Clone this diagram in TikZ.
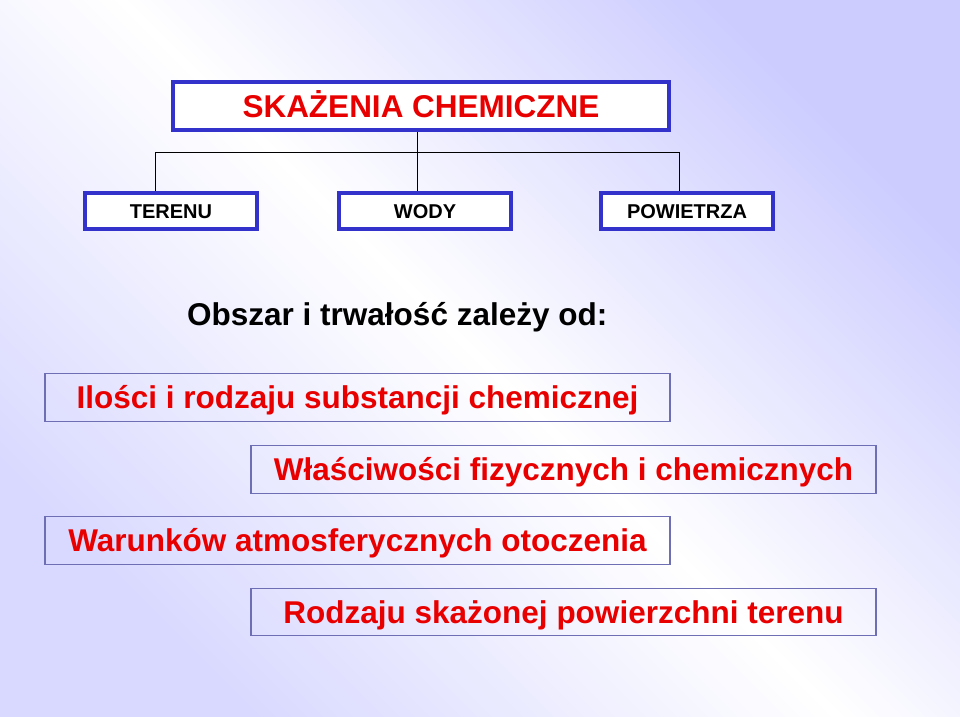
\documentclass[tikz,border=0pt]{standalone}
\usepackage{fontspec}
\setmainfont{Liberation Sans}
\usetikzlibrary{calc}

\definecolor{bglav}{RGB}{204,204,255}
\definecolor{boxblue}{RGB}{51,51,204}
\definecolor{thinblue}{RGB}{110,110,180}
\definecolor{textred}{RGB}{232,0,0}

\begin{document}
\begin{tikzpicture}[x=1pt,y=-1pt,
  topbox/.style={draw=boxblue,line width=4pt,fill=white,text height=14.4pt,text depth=0pt,
    minimum width=172pt,minimum height=36pt,font=\bfseries\fontsize{20}{22}\selectfont},
  factor/.style={draw=thinblue,line width=1.3pt,text=textred,text height=22.6pt,text depth=0pt,
    minimum width=625pt,minimum height=47.5pt,font=\bfseries\fontsize{31.5}{34}\selectfont}]

\useasboundingbox (0,0) rectangle (960,716);
\shade[top color=bglav,bottom color=bglav!75!white,middle color=white,shading angle=-45] (0,0) rectangle (960,716);

\coordinate (busL) at (155,152);
\coordinate (busM) at (417,152);
\coordinate (busR) at (679,152);

\node[topbox,minimum width=496pt,minimum height=48pt,text=textred,text height=22.6pt,
  font=\bfseries\fontsize{31.5}{34}\selectfont] (title) at (421,106) {SKAŻENIA CHEMICZNE};
\node[topbox] (terenu) at (171,211) {TERENU};
\node[topbox] (wody) at (425,211) {WODY};
\node[topbox] (powietrza) at (687,211) {POWIETRZA};

\draw[line width=0.9pt] (title.south -| busM) -- (wody.north -| busM);
\draw[line width=0.9pt] (terenu.north -| busL) -- (busL) -- (busR) -- (powietrza.north -| busR);

\node[anchor=base west,font=\bfseries\fontsize{31.5}{34}\selectfont,inner sep=0pt] (obszar) at (187,325) {Obszar i trwałość zależy od:};

\node[factor] (ilosc) at (357.5,397.5) {Ilości i rodzaju substancji chemicznej};
\node[factor] (wlasc) at (563.5,469.5) {Właściwości fizycznych i chemicznych};
\node[factor] (warunki) at (357.5,540.5) {Warunków atmosferycznych otoczenia};
\node[factor] (rodzaj) at (563.5,612) {Rodzaju skażonej powierzchni terenu};

\end{tikzpicture}
\end{document}
